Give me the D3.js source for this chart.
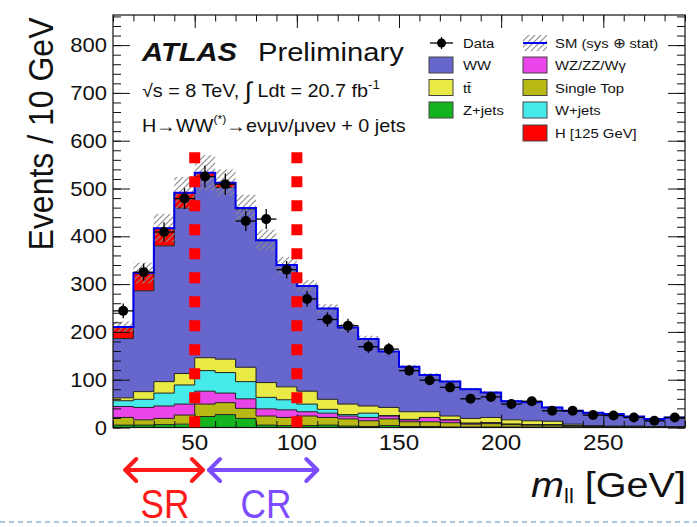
<!DOCTYPE html>
<html><head><meta charset="utf-8">
<script src="https://cdn.jsdelivr.net/npm/d3@7"></script>
<style>html,body{margin:0;padding:0;background:#fff;} svg{display:block;}</style>
</head><body>
<script>
// ---------- DATA ----------
const binEdges = [10,20,30,40,50,60,70,80,90,100,110,120,130,140,150,160,170,180,190,200,210,220,230,240,250,260,270,280,290];
const zjets     = [5,5,6,7,23,27,19,5,4,4,5,3,2,4,2,2,1,1,1,1,1,1,1,0,0,0,0,0];
const singleTop = [16,11,13,19,26,25,21,19,17,20,16,15,12,14,10,10,9,6,7,5,4,4,2,2,2,2,1,1];
const diboson   = [23,26,26,23,27,20,20,15,16,9,9,6,7,6,4,9,6,2,2,1,1,1,1,1,0,0,0,0];
const wjets     = [12,17,27,40,43,43,36,24,21,16,8,3,9,1,1,0,0,0,0,0,0,0,0,0,0,0,0,0];
const ttbar     = [6,16,24,24,27,28,30,31,27,27,21,22,15,17,16,12,8,10,11,9,8,7,3,1,1,1,1,1];
const ww        = [124,211,284,346,379,359,331,297,255,220,190,160,140,117,94,77,72,61,52,39,39,29,28,27,25,20,16,19];
const higgs     = [24,37,37,32,8,10,2,1,0,0,0,0,0,0,0,0,0,0,0,0,0,0,0,0,0,0,0,0];
const smUnc     = [12,22,30,33,37,28,28,22,17,13,9,8,7,5,4,4,3,3,3,2,2,2,2,2,2,1,1,1];
const dataVals  = [244,325,409,479,525,509,432,436,330,269,226,213,169,164,119,99,84,60,64,49,55,35,35,26,25,21,14,21];
const yTicks = [0,100,200,300,400,500,600,700,800];
const xTicks = [50,100,150,200,250];
const regionEdges = [50,100];            // SR / CR boundaries (dashed red lines)
const srRange = [16,54], crRange = [57,110]; // arrow extents in GeV

const layers = [
  {name:"Z+jets",     vals:zjets,     color:"#14b41e"},
  {name:"Single Top", vals:singleTop, color:"#b9b916"},
  {name:"WZ/ZZ/Wγ",   vals:diboson,   color:"#e945e8"},
  {name:"W+jets",     vals:wjets,     color:"#46eaea"},
  {name:"tt̄",         vals:ttbar,     color:"#eaea46"},
  {name:"WW",         vals:ww,        color:"#6666cc"},
  {name:"H [125 GeV]",vals:higgs,     color:"#ff0000"}
];

// ---------- SETUP ----------
const W=697, H=527, SX=1.1, FONT="'Liberation Sans', Arial, Helvetica, sans-serif";
const svg = d3.select("body").append("svg").attr("width",W).attr("height",H);
const x = d3.scaleLinear().domain([10,290]).range([113,685]);
const y = d3.scaleLinear().domain([0,863]).range([427.5,15]);

const defs = svg.append("defs");
const pat = defs.append("pattern").attr("id","hatch").attr("patternUnits","userSpaceOnUse")
  .attr("width",6).attr("height",6);
pat.append("path").attr("d","M-1,1 L1,-1 M0,6 L6,0 M5,7 L7,5").attr("stroke","#8a8a8a").attr("stroke-width",1.1);
defs.append("clipPath").attr("id","plotclip").append("rect")
  .attr("x",x(10)).attr("y",y(863)).attr("width",x(290)-x(10)).attr("height",y(0)-y(863));

function T(sel, px, py, s, size, o={}) {
  const t = sel.append("text")
    .attr("transform", `translate(${px},${py}) scale(${o.sx||SX},1)${o.rot?` rotate(${o.rot})`:""}`)
    .attr("font-size", size).attr("font-family", o.font||FONT)
    .attr("text-anchor", o.anchor||"start").attr("fill", o.fill||"#111");
  if (o.weight) t.attr("font-weight", o.weight);
  if (o.style) t.attr("font-style", o.style);
  if (s!==null) t.text(s);
  return t;
}

// ---------- STACK ----------
const nb = dataVals.length;
let base = new Array(nb).fill(0);
const plot = svg.append("g").attr("clip-path","url(#plotclip)");
const area = d3.area().x(d=>x(d.x)).y0(d=>y(d.y0)).y1(d=>y(d.y1));
const line = d3.line().x(d=>x(d.x)).y(d=>y(d.y1));
layers.forEach(L => {
  const pts = [];
  for (let i=0;i<nb;i++){
    const top = base[i]+L.vals[i];
    pts.push({x:binEdges[i], y0:base[i], y1:top});
    pts.push({x:binEdges[i+1], y0:base[i], y1:top});
    base[i]=top;
  }
  L.pts = pts;
});
layers.forEach(L => {
  plot.append("path").attr("d", area(L.pts)).attr("fill", L.color);
});
layers.forEach(L => {
  plot.append("path").attr("d", line(L.pts)).attr("fill","none").attr("stroke","#222").attr("stroke-width",1);
});
const total = base.slice();
const totPts = [];
for (let i=0;i<nb;i++){ totPts.push({x:binEdges[i],y1:total[i]}); totPts.push({x:binEdges[i+1],y1:total[i]}); }
plot.selectAll("rect.unc").data(d3.range(nb)).join("rect").attr("class","unc")
  .attr("x", i=>x(binEdges[i])).attr("width", i=>x(binEdges[i+1])-x(binEdges[i]))
  .attr("y", i=>y(total[i]+smUnc[i])).attr("height", i=>y(total[i]-smUnc[i])-y(total[i]+smUnc[i]))
  .attr("fill","url(#hatch)");
plot.append("path").attr("d", line(totPts)).attr("fill","none").attr("stroke","#0000ee").attr("stroke-width",2);

// ---------- DATA POINTS ----------
const dg = svg.append("g");
for (let i=0;i<nb;i++){
  const c = (binEdges[i]+binEdges[i+1])/2, v=dataVals[i], e=Math.sqrt(v);
  dg.append("line").attr("x1",x(binEdges[i])).attr("x2",x(binEdges[i+1])).attr("y1",y(v)).attr("y2",y(v)).attr("stroke","#000").attr("stroke-width",1.3);
  dg.append("line").attr("x1",x(c)).attr("x2",x(c)).attr("y1",y(v-e)).attr("y2",y(v+e)).attr("stroke","#000").attr("stroke-width",1.3);
  dg.append("circle").attr("cx",x(c)).attr("cy",y(v)).attr("r",5).attr("fill","#000");
}

// ---------- AXES (ticks inside, on all sides) ----------
const ax = svg.append("g");
const fmtNone = () => "";
const yMinor = d3.range(0,861,20), xMinor = d3.range(10,291,10);
ax.append("g").attr("transform",`translate(${x(10)},0)`).call(d3.axisLeft(y).tickValues(yMinor).tickSize(-8).tickFormat(fmtNone));
ax.append("g").attr("transform",`translate(${x(10)},0)`).call(d3.axisLeft(y).tickValues(yTicks).tickSize(-17).tickFormat(fmtNone));
ax.append("g").attr("transform",`translate(${x(290)},0)`).call(d3.axisRight(y).tickValues(yMinor).tickSize(-8).tickFormat(fmtNone));
ax.append("g").attr("transform",`translate(${x(290)},0)`).call(d3.axisRight(y).tickValues(yTicks).tickSize(-17).tickFormat(fmtNone));
ax.append("g").attr("transform",`translate(0,${y(0)})`).call(d3.axisBottom(x).tickValues(xMinor).tickSize(-6.5).tickFormat(fmtNone));
ax.append("g").attr("transform",`translate(0,${y(0)})`).call(d3.axisBottom(x).tickValues(xTicks).tickSize(-13).tickFormat(fmtNone));
ax.append("g").attr("transform",`translate(0,${y(863)})`).call(d3.axisTop(x).tickValues(xMinor).tickSize(-6.5).tickFormat(fmtNone));
ax.append("g").attr("transform",`translate(0,${y(863)})`).call(d3.axisTop(x).tickValues(xTicks).tickSize(-13).tickFormat(fmtNone));
ax.selectAll(".domain").remove();
ax.selectAll("line").attr("stroke","#111").attr("stroke-width",1);
svg.append("rect").attr("x",x(10)).attr("y",y(863)).attr("width",x(290)-x(10)).attr("height",y(0)-y(863))
  .attr("fill","none").attr("stroke","#111").attr("stroke-width",1.2);

yTicks.forEach(v => T(svg, 107, y(v)+7, String(v), 20, {anchor:"end"}));
xTicks.forEach(v => T(svg, x(v), 450, String(v), 22, {anchor:"middle"}));

T(svg, 53, 134, "Events / 10 GeV", 32, {anchor:"middle", rot:-90});
const xl = T(svg, 686, 497, null, 36, {anchor:"end"});
xl.append("tspan").attr("font-style","italic").text("m");
xl.append("tspan").attr("font-size",20).attr("dy",6).text("ll");
xl.append("tspan").attr("dy",-6).text(" [GeV]");

// ---------- TEXT BLOCK ----------
T(svg, 142, 61, "ATLAS", 26.5, {weight:"bold", style:"italic"});
T(svg, 258, 61, "Preliminary", 26.5);
const l2 = T(svg, 142, 97, null, 18);
l2.append("tspan").text("√s = 8 TeV, ");
l2.append("tspan").attr("font-size",24).attr("dy",2).text("∫");
l2.append("tspan").attr("dy",-2).text(" Ldt = 20.7 fb");
l2.append("tspan").attr("font-size",12).attr("dy",-8).text("-1");
const l3 = T(svg, 142, 132, null, 18);
l3.append("tspan").text("H→WW");
l3.append("tspan").attr("font-size",11).attr("dy",-9).text("(*)");
l3.append("tspan").attr("dy",9).text("→eνμν/μνeν + 0 jets");

// ---------- LEGEND ----------
const lg = svg.append("g");
const rows = [43,65,87.5,110,133];
lg.append("line").attr("x1",430).attr("x2",453).attr("y1",rows[0]).attr("y2",rows[0]).attr("stroke","#000").attr("stroke-width",1.3);
lg.append("line").attr("x1",441.5).attr("x2",441.5).attr("y1",rows[0]-6).attr("y2",rows[0]+6).attr("stroke","#000").attr("stroke-width",1.3);
lg.append("circle").attr("cx",441.5).attr("cy",rows[0]).attr("r",4.5).attr("fill","#000");
T(lg, 463, rows[0]+5, "Data", 13.5);
lg.append("rect").attr("x",523).attr("y",rows[0]-8).attr("width",24).attr("height",16).attr("fill","url(#hatch)");
lg.append("line").attr("x1",523).attr("x2",547).attr("y1",rows[0]).attr("y2",rows[0]).attr("stroke","#0000ee").attr("stroke-width",2);
T(lg, 555, rows[0]+5, "SM (sys ⊕ stat)", 13.5);
const legItems = [
  {L:layers[5], col:0, row:1},{L:layers[4], col:0, row:2},{L:layers[0], col:0, row:3},
  {L:layers[2], col:1, row:1},{L:layers[1], col:1, row:2},{L:layers[3], col:1, row:3},{L:layers[6], col:1, row:4}
];
legItems.forEach(it => {
  const bx = it.col===0 ? 429 : 523, tx = it.col===0 ? 463 : 555, cy = rows[it.row];
  lg.append("rect").attr("x",bx).attr("y",cy-8).attr("width",24).attr("height",16)
    .attr("fill",it.L.color).attr("stroke","#444").attr("stroke-width",1);
  T(lg, tx, cy+5, it.L.name, 13.5);
});

// ---------- ANNOTATIONS ----------
regionEdges.forEach(v => {
  svg.append("line").attr("x1",x(v)).attr("x2",x(v)).attr("y1",y(576)).attr("y2",y(0))
    .attr("stroke","#ff0000").attr("stroke-width",11).attr("stroke-dasharray","11,13");
});
function dblArrow(a, b, yy, color){
  const g = svg.append("g").attr("stroke",color).attr("stroke-width",4).attr("fill","none")
    .attr("stroke-linecap","round").attr("stroke-linejoin","round");
  g.append("line").attr("x1",x(a)).attr("x2",x(b)).attr("y1",yy).attr("y2",yy);
  g.append("polyline").attr("points",`${x(a)+11},${yy-11} ${x(a)},${yy} ${x(a)+11},${yy+11}`);
  g.append("polyline").attr("points",`${x(b)-11},${yy-11} ${x(b)},${yy} ${x(b)-11},${yy+11}`);
}
dblArrow(srRange[0], srRange[1], 470, "#ff1a1a");
dblArrow(crRange[0], crRange[1], 470, "#7b4dff");
T(svg, 165, 518, "SR", 40, {anchor:"middle", sx:0.88, fill:"#ff1a1a"});
T(svg, 266, 518, "CR", 40, {anchor:"middle", sx:0.88, fill:"#7b4dff"});
svg.append("line").attr("x1",0).attr("x2",W).attr("y1",522).attr("y2",522)
  .attr("stroke","#8fb3d9").attr("stroke-width",1.3).attr("stroke-dasharray","5,4");
</script>
</body></html>
